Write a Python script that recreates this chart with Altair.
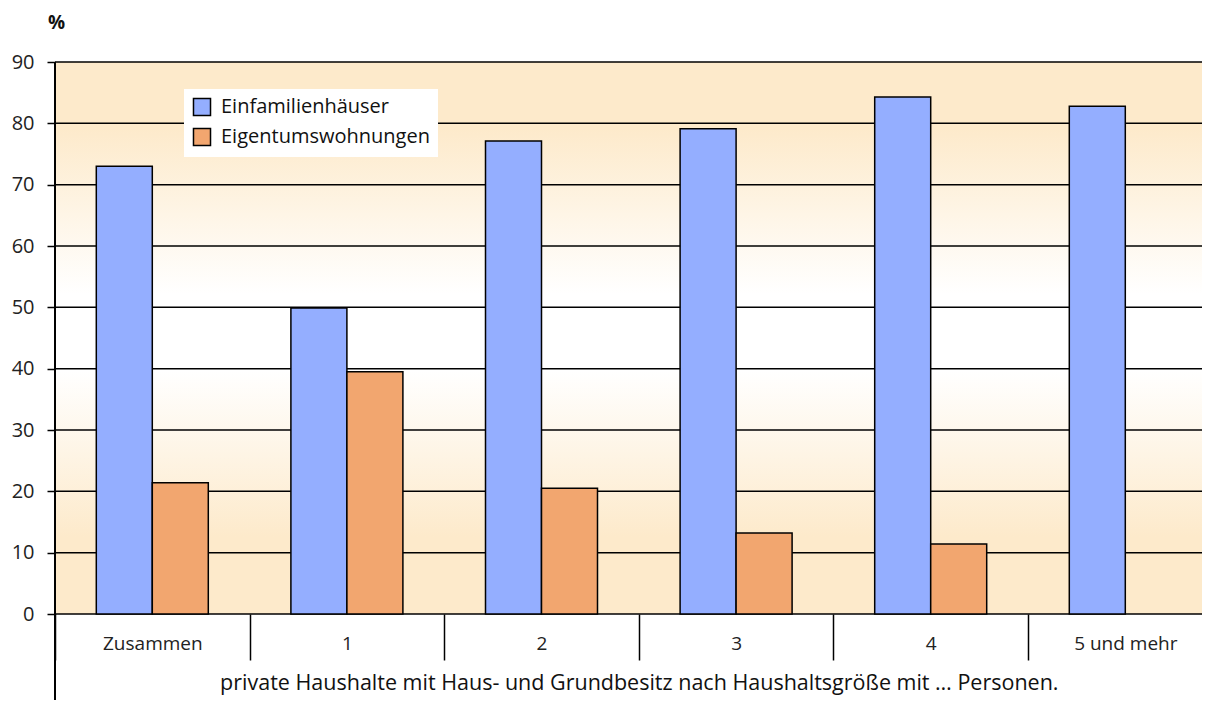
import altair as alt
import pandas as pd

categories = ["Zusammen", "1", "2", "3", "4", "5 und mehr"]
series = ["Einfamilienhäuser", "Eigentumswohnungen"]
einfamilienhaeuser = [73.0, 49.9, 77.1, 79.1, 84.3, 82.8]
eigentumswohnungen = [21.4, 39.5, 20.5, 13.2, 11.4, None]
y_ticks = [0, 10, 20, 30, 40, 50, 60, 70, 80, 90]

rows = []
for c, a, b in zip(categories, einfamilienhaeuser, eigentumswohnungen):
    rows.append({"cat": c, "series": series[0], "value": a})
    if b is not None:
        rows.append({"cat": c, "series": series[1], "value": b})
df = pd.DataFrame(rows)
grid_df = pd.DataFrame({"v": y_ticks})
one = pd.DataFrame({"a": [0]})

W = 1147
H = 552
BAND = 194.6
XR = BAND * len(categories)
FONT = "Open Sans"
BLUE = "#94AEFF"
ORANGE = "#F2A66F"
PEACH = "#FDEACB"

y_scale = alt.Scale(domain=[0, 90], nice=False)
y_axis = alt.Axis(
    values=y_ticks, grid=False, domain=True, domainColor="black", domainWidth=2,
    ticks=True, tickSize=8, tickColor="black", tickWidth=1.5,
    labelFontSize=20, labelFont=FONT, labelColor="#222", labelPadding=13,
    title="%", titleAngle=0, titleX=1, titleY=-34, titleAlign="center",
    titleBaseline="alphabetic", titleFontSize=19, titleFontWeight="bold",
    titleFont=FONT, titleColor="#111",
)

bg = alt.Chart(one).mark_rect(
    fill=alt.Gradient(
        gradient="linear", x1=0, x2=0, y1=0, y2=1,
        stops=[
            alt.GradientStop(offset=0, color=PEACH),
            alt.GradientStop(offset=0.12, color=PEACH),
            alt.GradientStop(offset=0.42, color="#FFFFFF"),
            alt.GradientStop(offset=0.56, color="#FFFFFF"),
            alt.GradientStop(offset=0.86, color=PEACH),
            alt.GradientStop(offset=1, color=PEACH),
        ],
    )
).encode(x=alt.value(0), x2=alt.value(W), y=alt.value(0), y2=alt.value(H))

grid = alt.Chart(grid_df).mark_rule(color="black", strokeWidth=1.5).encode(
    y=alt.Y("v:Q", scale=y_scale, axis=y_axis),
    x=alt.value(0), x2=alt.value(W),
)

vline = alt.Chart(one).mark_rule(color="black", strokeWidth=2).encode(
    x=alt.value(0), y=alt.value(0), y2=alt.value(H + 90)
)

bars = alt.Chart(df).mark_bar(stroke="black", strokeWidth=1.5).encode(
    x=alt.X(
        "cat:N", sort=categories,
        scale=alt.Scale(range=[0, XR], paddingInner=0, paddingOuter=0),
        axis=alt.Axis(
            title="private Haushalte mit Haus- und Grundbesitz nach Haushaltsgröße mit … Personen.",
            labelAngle=0, domain=False, grid=False, ticks=True, tickBand="extent",
            tickSize=46, tickColor="black", tickWidth=1.5,
            labelFontSize=19, labelFont=FONT, labelColor="#222", labelPadding=-26,
            titleFontSize=21.5, titleFont=FONT, titleFontWeight="normal",
            titleColor="#111", titleY=75, titleBaseline="alphabetic",
        ),
    ),
    xOffset=alt.XOffset("series:N", sort=series,
                        scale=alt.Scale(domain=series, paddingInner=0, paddingOuter=0.7375)),
    y=alt.Y("value:Q", scale=y_scale, axis=y_axis),
    color=alt.Color(
        "series:N", sort=series,
        scale=alt.Scale(domain=series, range=[BLUE, ORANGE]),
        legend=alt.Legend(
            title=None, orient="none", legendX=129, legendY=27,
            fillColor="white", padding=8, symbolType="square", symbolSize=290,
            symbolStrokeColor="black", symbolStrokeWidth=1.5,
            labelFontSize=20, labelFont=FONT, labelColor="#111", labelLimit=400,
            rowPadding=6, labelOffset=9,
        ),
    ),
)

chart = alt.layer(bg, grid, vline, bars).properties(
    width=W, height=H,
    autosize=alt.AutoSizeParams(type="none"),
    padding={"left": 47, "top": 54, "right": 0, "bottom": 86},
).configure_view(stroke=None)

chart.save("out.html", embed_options={"renderer": "svg", "actions": False})
